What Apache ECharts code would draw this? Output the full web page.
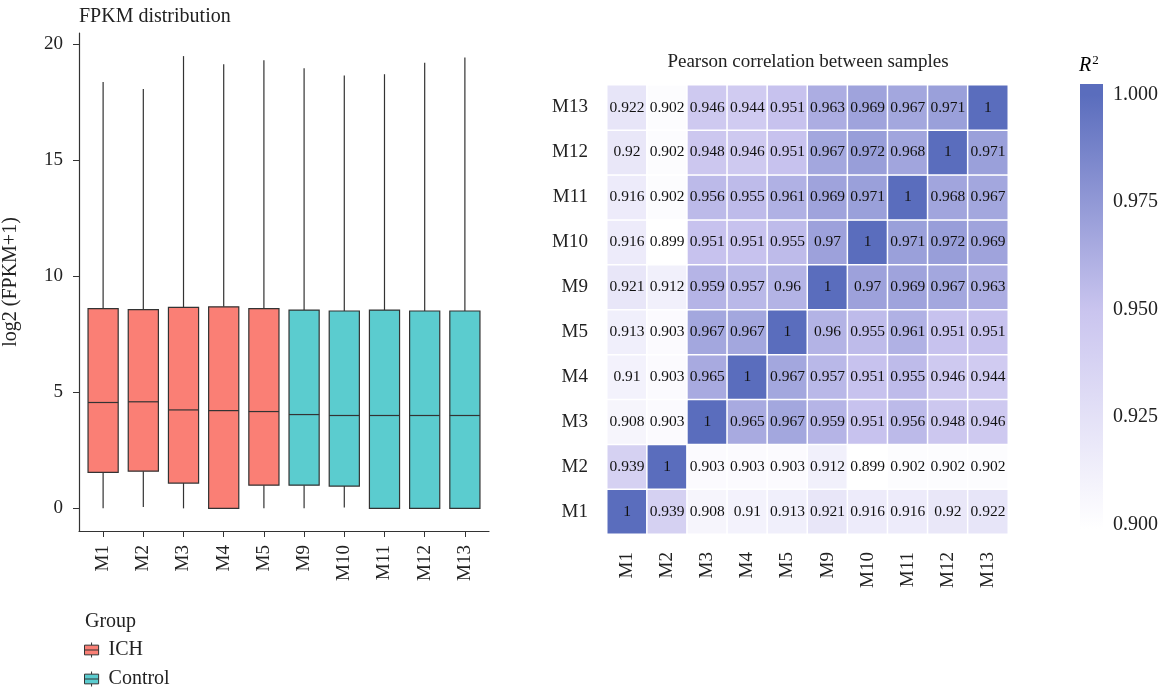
<!DOCTYPE html>
<html>
<head>
<meta charset="utf-8">
<script src="https://cdn.jsdelivr.net/npm/echarts@6.0.0/dist/echarts.min.js"></script>
<style>
  html, body { margin: 0; padding: 0; background: #fff; }
  #chart { width: 1165px; height: 693px; }
</style>
</head>
<body>
<div id="chart"></div>
<script>
let myChart = echarts.init(document.getElementById("chart"));

// samples and groups
let samples = ["M1", "M2", "M3", "M4", "M5", "M9", "M10", "M11", "M12", "M13"];
let groups = ["ICH", "ICH", "ICH", "ICH", "ICH", "Control", "Control", "Control", "Control", "Control"];

// box stats, log2(FPKM+1)
let whiskerLow = [0, 0.06, 0, 0, 0, 0, 0.04, 0, 0, 0];
let q1 = [1.55, 1.6, 1.09, 0, 1.0, 1.0, 0.96, 0, 0, 0];
let median = [4.56, 4.59, 4.24, 4.21, 4.17, 4.04, 4.0, 4.0, 4.0, 4.0];
let q3 = [8.6, 8.56, 8.66, 8.68, 8.6, 8.54, 8.5, 8.54, 8.5, 8.5];
let whiskerHigh = [18.36, 18.06, 19.48, 19.13, 19.3, 18.96, 18.64, 18.7, 19.19, 19.42];
let fpkmTicks = [0, 5, 10, 15, 20];

// pearson R^2, rows from M1 (bottom) to M13 (top)
let corr = [
  [1, 0.939, 0.908, 0.91, 0.913, 0.921, 0.916, 0.916, 0.92, 0.922],
  [0.939, 1, 0.903, 0.903, 0.903, 0.912, 0.899, 0.902, 0.902, 0.902],
  [0.908, 0.903, 1, 0.965, 0.967, 0.959, 0.951, 0.956, 0.948, 0.946],
  [0.91, 0.903, 0.965, 1, 0.967, 0.957, 0.951, 0.955, 0.946, 0.944],
  [0.913, 0.903, 0.967, 0.967, 1, 0.96, 0.955, 0.961, 0.951, 0.951],
  [0.921, 0.912, 0.959, 0.957, 0.96, 1, 0.97, 0.969, 0.967, 0.963],
  [0.916, 0.899, 0.951, 0.951, 0.955, 0.97, 1, 0.971, 0.972, 0.969],
  [0.916, 0.902, 0.956, 0.955, 0.961, 0.969, 0.971, 1, 0.968, 0.967],
  [0.92, 0.902, 0.948, 0.946, 0.951, 0.967, 0.972, 0.968, 1, 0.971],
  [0.922, 0.902, 0.946, 0.944, 0.951, 0.963, 0.969, 0.967, 0.971, 1],
];
let r2Ticks = [0.9, 0.925, 0.95, 0.975, 1.0];

let font = "Liberation Serif";
let ink = "#222";
let groupColors = { ICH: "#FA7F75", Control: "#5BCCCF" };
let heatColors = ["#ffffff", "#cac5ef", "#5a6dbd"];
let r2Min = 0.899, r2Max = 1.0;
let barLow = 0.899, barHigh = 1.0025;

function boxData(g) {
  let out = [];
  samples.forEach((s, i) => {
    if (groups[i] === g) out.push([i, whiskerLow[i], q1[i], median[i], q3[i], whiskerHigh[i]]);
  });
  return out;
}

function renderBox(params, api) {
  let i = api.value(0);
  let half = api.size([0.75, 0])[0] / 2;
  let lo = api.coord([i, api.value(1)]);
  let b1 = api.coord([i, api.value(2)]);
  let md = api.coord([i, api.value(3)]);
  let b3 = api.coord([i, api.value(4)]);
  let hi = api.coord([i, api.value(5)]);
  let line = () => ({ stroke: "#333", lineWidth: 1.2 });
  return {
    type: "group",
    children: [
      { type: "line", shape: { x1: lo[0], y1: lo[1], x2: b1[0], y2: b1[1] }, style: line() },
      { type: "line", shape: { x1: b3[0], y1: b3[1], x2: hi[0], y2: hi[1] }, style: line() },
      {
        type: "rect",
        shape: { x: b3[0] - half, y: b3[1], width: half * 2, height: b1[1] - b3[1] },
        style: { fill: api.visual("color"), stroke: "#333", lineWidth: 1.2 },
      },
      { type: "line", shape: { x1: md[0] - half, y1: md[1], x2: md[0] + half, y2: md[1] }, style: line() },
    ],
  };
}

// gradient stops matching the visualMap colours over the bar range
function colorbarStops() {
  let span = barHigh - barLow;
  let mid = (r2Min + r2Max) / 2;
  return [
    { offset: 0, color: heatColors[2] },
    { offset: (barHigh - r2Max) / span, color: heatColors[2] },
    { offset: (barHigh - mid) / span, color: heatColors[1] },
    { offset: 1, color: heatColors[0] },
  ];
}

function renderColorbar(params, api) {
  let top = api.coord([0, api.value(1)]);
  let bot = api.coord([0, api.value(0)]);
  let w = api.size([1, 0])[0];
  return {
    type: "rect",
    shape: { x: top[0], y: top[1], width: w, height: bot[1] - top[1] },
    style: { fill: new echarts.graphic.LinearGradient(0, 0, 0, 1, colorbarStops()) },
  };
}

let heatData = [];
corr.forEach((row, r) => row.forEach((v, c) => heatData.push([c, r, v])));

let axisText = { fontFamily: font, fontSize: 19, color: ink };

let option = {
  animation: false,
  textStyle: { fontFamily: font },
  graphic: [
    { type: "text", x: 79, y: 17, style: { text: "FPKM distribution", font: "20px " + font, fill: ink, textVerticalAlign: "middle" } },
    { type: "text", x: 808, y: 62, style: { text: "Pearson correlation between samples", font: "19px " + font, fill: ink, textAlign: "center", textVerticalAlign: "middle" } },
    { type: "text", x: 85, y: 622, style: { text: "Group", font: "20px " + font, fill: ink, textVerticalAlign: "middle" } },
    {
      type: "text", x: 1079, y: 66,
      style: {
        text: "{i|R}{s|2}",
        textVerticalAlign: "middle",
        rich: {
          i: { fontFamily: font, fontSize: 20, fontStyle: "italic", color: ink },
          s: { fontFamily: font, fontSize: 13, color: ink, padding: [0, 0, 10, 1] },
        },
      },
    },
  ],
  legend: {
    data: ["ICH", "Control"],
    orient: "vertical",
    left: 84,
    top: 640,
    height: 80,
    padding: 0,
    itemWidth: 16,
    itemHeight: 15,
    itemGap: 9,
    icon: "path://M8,0 L8,3 M0,3 L16,3 L16,14 L0,14 Z M0,8.5 L16,8.5 M8,14 L8,17",
    itemStyle: { borderColor: "#333", borderWidth: 1 },
    textStyle: { fontFamily: font, fontSize: 20, lineHeight: 15, color: ink, padding: [0, 0, 0, 4] },
  },
  visualMap: {
    show: false,
    min: r2Min,
    max: r2Max,
    dimension: 2,
    seriesIndex: 2,
    inRange: { color: heatColors },
  },
  grid: [
    { left: 79, right: 676, top: 33, bottom: 162 },
    { left: 607, right: 157, top: 85, bottom: 159 },
    { left: 1080, right: 62, top: 84, bottom: 164 },
  ],
  xAxis: [
    {
      gridIndex: 0,
      type: "value",
      min: -0.6,
      max: 9.6,
      splitLine: { show: false },
      axisLine: { onZero: false, lineStyle: { color: "#333", width: 1.2 } },
      axisTick: { length: 6, lineStyle: { color: "#333" }, customValues: samples.map((s, i) => i) },
      axisLabel: {
        ...axisText,
        rotate: 90,
        margin: 14,
        customValues: samples.map((s, i) => i),
        formatter: (v) => samples[Math.round(v)],
      },
    },
    {
      gridIndex: 1,
      type: "category",
      data: samples,
      offset: 4,
      axisLine: { show: false },
      axisTick: { alignWithLabel: true, length: 5, lineStyle: { color: "#333" } },
      axisLabel: { ...axisText, rotate: 90, margin: 14 },
    },
    { gridIndex: 2, type: "value", min: 0, max: 1, show: false },
  ],
  yAxis: [
    {
      gridIndex: 0,
      type: "value",
      min: -0.975,
      max: 20.475,
      name: "log2 (FPKM+1)",
      nameLocation: "middle",
      nameGap: 58,
      nameTextStyle: { fontFamily: font, fontSize: 20, color: ink },
      splitLine: { show: false },
      axisLine: { show: true, onZero: false, lineStyle: { color: "#333", width: 1.2 } },
      axisTick: { show: true, length: 6, lineStyle: { color: "#333" }, customValues: fpkmTicks },
      axisLabel: { ...axisText, margin: 16, customValues: fpkmTicks },
    },
    {
      gridIndex: 1,
      type: "category",
      data: samples,
      offset: 8,
      axisLine: { show: false },
      axisTick: { alignWithLabel: true, length: 5, lineStyle: { color: "#333" } },
      axisLabel: { ...axisText, margin: 11 },
    },
    {
      gridIndex: 2,
      type: "value",
      min: barLow,
      max: barHigh,
      position: "left",
      splitLine: { show: false },
      axisLine: { show: false },
      axisTick: { show: true, inside: true, length: 5, lineStyle: { color: "#fff", width: 1.5 }, customValues: r2Ticks },
      axisLabel: { show: false },
    },
    {
      gridIndex: 2,
      type: "value",
      min: barLow,
      max: barHigh,
      position: "right",
      splitLine: { show: false },
      axisLine: { show: false },
      axisTick: { show: true, inside: true, length: 5, lineStyle: { color: "#fff", width: 1.5 }, customValues: r2Ticks },
      axisLabel: { ...axisText, fontSize: 20, margin: 10, customValues: r2Ticks, formatter: (v) => v.toFixed(3) },
    },
  ],
  series: [
    {
      name: "ICH",
      type: "custom",
      xAxisIndex: 0,
      yAxisIndex: 0,
      itemStyle: { color: groupColors.ICH },
      encode: { x: 0, y: [1, 2, 3, 4, 5] },
      renderItem: renderBox,
      data: boxData("ICH"),
      z: 3,
    },
    {
      name: "Control",
      type: "custom",
      xAxisIndex: 0,
      yAxisIndex: 0,
      itemStyle: { color: groupColors.Control },
      encode: { x: 0, y: [1, 2, 3, 4, 5] },
      renderItem: renderBox,
      data: boxData("Control"),
      z: 3,
    },
    {
      name: "R2",
      type: "heatmap",
      xAxisIndex: 1,
      yAxisIndex: 1,
      data: heatData,
      itemStyle: { borderColor: "#fff", borderWidth: 1.5 },
      label: {
        show: true,
        fontFamily: font,
        fontSize: 15.5,
        color: "#111",
        formatter: (p) => String(p.value[2]),
      },
      emphasis: { disabled: true },
    },
    {
      name: "colorbar",
      type: "custom",
      xAxisIndex: 2,
      yAxisIndex: 2,
      encode: { x: -1, y: [0, 1] },
      renderItem: renderColorbar,
      data: [[barLow, barHigh]],
      z: 1,
    },
  ],
};

myChart.setOption(option);
</script>
</body>
</html>
